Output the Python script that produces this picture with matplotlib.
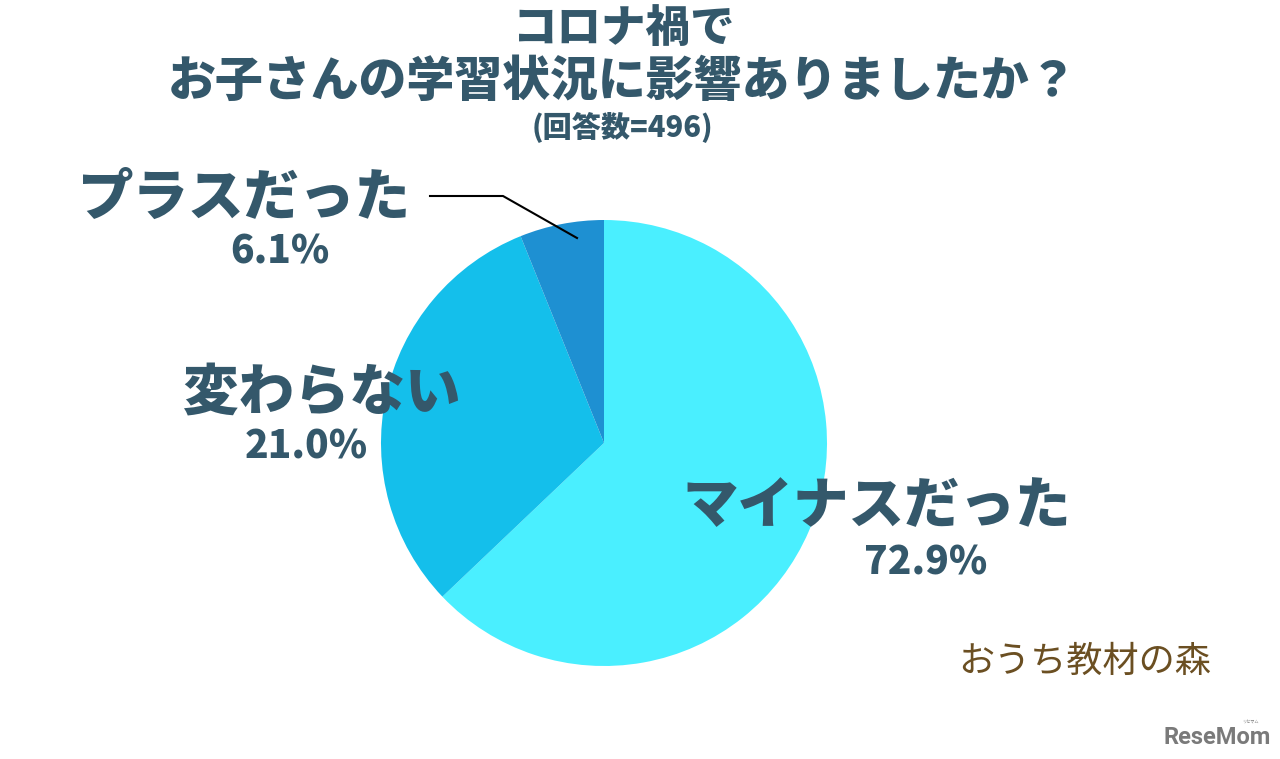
import matplotlib.pyplot as plt

plt.rcParams['font.family'] = ['Noto Sans CJK JP', 'DejaVu Sans']

# slice sizes as drawn in the picture (clockwise from 12 o'clock)
slice_names = ["マイナスだった", "変わらない", "プラスだった"]
slice_sizes = [62.9, 31.0, 6.1]
# percentages printed on the labels
label_pcts = ["72.9%", "21.0%", "6.1%"]
colors = ["#4AEFFF", "#14BFEB", "#1E90D2"]

text_col = "#34586B"
W, H = 1280, 759

fig = plt.figure(figsize=(W / 100, H / 100), dpi=100)
ax = fig.add_axes([0, 0, 1, 1])

ax.pie(slice_sizes, colors=colors, startangle=90, counterclock=False,
       center=(604, H - 443), radius=223, frame=True,
       wedgeprops=dict(linewidth=0))
ax.set_xlim(0, W)
ax.set_ylim(0, H)
ax.set_aspect("equal")
ax.axis("off")

# title
ax.text(624, H - 28, "コロナ禍で", ha="center", va="center",
        fontsize=32, fontweight="heavy", color=text_col)
ax.text(623, H - 82, "お子さんの学習状況に影響ありましたか？", ha="center", va="center",
        fontsize=34.5, fontweight="heavy", color=text_col)
ax.text(622, H - 128, "(回答数=496)", ha="center", va="center",
        fontsize=21, fontweight="heavy", color=text_col)

# slice labels (img x, img y of name, then pct)
label_pos = [((877, 507), (926, 563)),
             ((322, 394), (306, 447)),
             ((244, 198), (280, 252))]
for name, pct, (npos, ppos) in zip(slice_names, label_pcts, label_pos):
    ax.text(npos[0], H - npos[1], name, ha="center", va="center",
            fontsize=40, fontweight="heavy", color=text_col)
    ax.text(ppos[0], H - ppos[1], pct, ha="center", va="center",
            fontsize=28, fontweight="heavy", color=text_col)

# leader line for the small slice
ax.plot([430, 503, 577], [H - 196, H - 196, H - 238], color="black", lw=1.5)

# logos
ax.text(1085, H - 662, "おうち教材の森", ha="center", va="center",
        fontsize=26, color="#6B4F22")
ax.text(1217, H - 738, "ReseMom", ha="center", va="center",
        fontsize=17, fontweight="bold", family="Roboto", color="#7A7A7A")
ax.text(1250, H - 722, "リセマム", ha="center", va="center",
        fontsize=3, color="#7A7A7A")

fig.savefig("out.png", dpi=100)
